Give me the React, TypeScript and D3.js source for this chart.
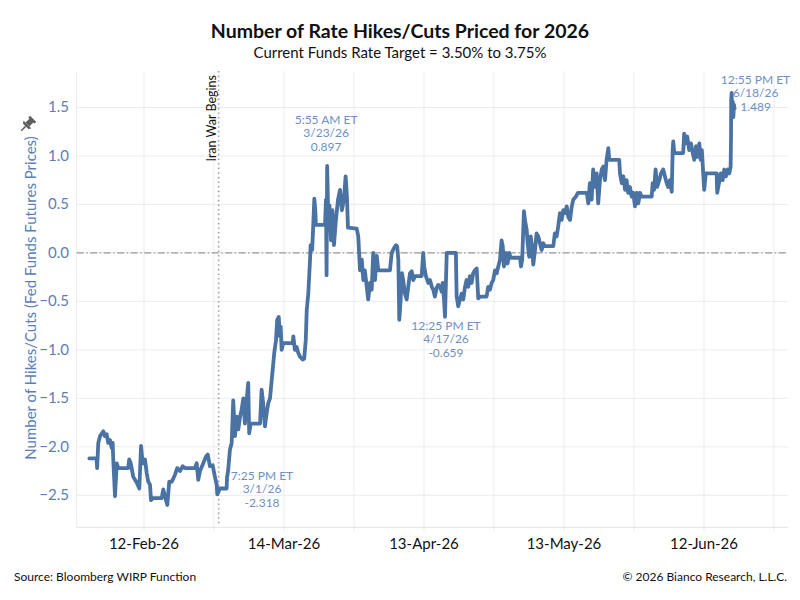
import React from 'react'
import * as d3 from 'd3'

// intraday readings, "M/D H" (2026) and number of hikes/cuts priced
const dates: string[] = [
  '1/31 7', '2/1 12', '2/1 20', '2/1 23', '2/2 5', '2/2 14', '2/3 7', '2/3 15', '2/4 0', '2/4 8',
  '2/4 17', '2/5 2', '2/5 7', '2/5 10', '2/5 19', '2/6 4', '2/6 12', '2/8 15', '2/8 20', '2/9 4',
  '2/9 17', '2/10 11', '2/11 0', '2/11 9', '2/11 17', '2/12 5', '2/12 14', '2/12 22', '2/13 7', '2/13 12',
  '2/13 21', '2/15 19', '2/16 3', '2/16 12', '2/17 0', '2/17 10', '2/17 23', '2/18 15', '2/19 3', '2/19 17',
  '2/20 7', '2/20 19', '2/22 22', '2/23 7', '2/23 15', '2/24 0', '2/24 17', '2/25 7', '2/25 16', '2/26 3',
  '2/26 17', '2/27 5', '2/27 14', '2/27 17', '2/28 7', '3/1 17', '3/1 19', '3/2 1', '3/2 10', '3/2 19',
  '3/3 3', '3/3 12', '3/3 21', '3/4 5', '3/4 14', '3/4 22', '3/5 7', '3/5 15', '3/6 0', '3/6 8',
  '3/6 13', '3/6 21', '3/8 21', '3/9 5', '3/9 13', '3/9 22', '3/10 7', '3/10 15', '3/11 0', '3/11 9',
  '3/11 17', '3/11 22', '3/12 7', '3/12 13', '3/12 21', '3/13 3', '3/13 7', '3/13 12', '3/13 20', '3/15 21',
  '3/16 0', '3/16 8', '3/16 17', '3/17 1', '3/17 10', '3/18 0', '3/18 8', '3/18 16', '3/18 21', '3/19 5',
  '3/19 14', '3/19 17', '3/20 1', '3/20 7', '3/20 12', '3/20 17', '3/20 20', '3/22 19', '3/23 0', '3/23 3',
  '3/23 6', '3/23 13', '3/23 18', '3/24 2', '3/24 9', '3/24 17', '3/25 3', '3/25 14', '3/26 0', '3/26 10',
  '3/26 20', '3/27 5', '3/27 12', '3/27 17', '3/29 14', '3/29 22', '3/30 7', '3/30 16', '3/31 0', '3/31 8',
  '4/1 1', '4/1 10', '4/1 19', '4/2 3', '4/2 12', '4/2 21', '4/3 5', '4/5 17', '4/6 2', '4/6 14',
  '4/7 0', '4/7 6', '4/7 12', '4/7 17', '4/8 0', '4/8 7', '4/8 13', '4/8 22', '4/9 7', '4/9 15',
  '4/10 0', '4/10 9', '4/10 17', '4/11 2', '4/12 12', '4/12 20', '4/13 1', '4/13 10', '4/13 22', '4/14 7',
  '4/14 16', '4/15 0', '4/15 8', '4/15 17', '4/16 1', '4/16 10', '4/16 19', '4/17 0', '4/17 7', '4/17 12',
  '4/17 21', '4/19 20', '4/20 0', '4/20 8', '4/20 17', '4/21 2', '4/21 10', '4/21 19', '4/22 3', '4/22 12',
  '4/22 20', '4/23 5', '4/23 13', '4/23 22', '4/24 7', '4/24 15', '4/25 0', '4/26 10', '4/26 18', '4/27 3',
  '4/27 12', '4/27 20', '4/28 5', '4/28 14', '4/28 22', '4/29 7', '4/29 15', '4/29 21', '4/30 3', '4/30 14',
  '4/30 22', '5/1 6', '5/1 14', '5/3 14', '5/3 19', '5/4 1', '5/4 10', '5/4 15', '5/5 0', '5/5 5',
  '5/5 13', '5/5 21', '5/6 3', '5/6 10', '5/6 19', '5/7 3', '5/7 12', '5/7 20', '5/8 5', '5/8 13',
  '5/8 22', '5/10 17', '5/11 1', '5/11 10', '5/11 18', '5/12 3', '5/12 12', '5/12 20', '5/13 5', '5/13 14',
  '5/13 22', '5/14 7', '5/14 16', '5/15 0', '5/15 13', '5/16 0', '5/17 21', '5/18 5', '5/18 13', '5/18 22',
  '5/19 6', '5/19 15', '5/20 0', '5/20 8', '5/20 17', '5/21 2', '5/21 10', '5/21 19', '5/22 3', '5/22 12',
  '5/22 17', '5/24 20', '5/25 0', '5/25 9', '5/25 17', '5/26 2', '5/26 10', '5/26 18', '5/27 3', '5/27 12',
  '5/27 20', '5/28 5', '5/28 14', '5/28 22', '5/29 7', '5/29 15', '5/31 19', '6/1 0', '6/1 7', '6/1 15',
  '6/1 23', '6/2 10', '6/2 19', '6/3 6', '6/3 15', '6/4 0', '6/4 8', '6/4 17', '6/5 2', '6/5 7',
  '6/5 10', '6/5 15', '6/7 13', '6/7 18', '6/8 3', '6/8 10', '6/8 20', '6/9 5', '6/9 14', '6/9 22',
  '6/10 7', '6/10 15', '6/11 0', '6/11 7', '6/11 13', '6/11 20', '6/12 1', '6/12 9', '6/14 17', '6/14 20',
  '6/15 5', '6/15 14', '6/16 0', '6/16 8', '6/16 17', '6/17 2', '6/17 10', '6/17 17', '6/17 19', '6/17 20',
  '6/17 22', '6/18 1', '6/18 4', '6/18 7', '6/18 10', '6/18 13',
]

const values: number[] = [
  -2.12, -2.12, -2.12, -2.22, -1.96, -1.89, -1.84, -1.89, -1.87, -1.96,
  -1.93, -2.01, -1.96, -2.13, -2.51, -2.17, -2.22, -2.22, -2.13, -2.17,
  -2.31, -2.37, -2.43, -1.99, -2.17, -2.13, -2.27, -2.36, -2.39, -2.55,
  -2.53, -2.53, -2.44, -2.51, -2.6, -2.36, -2.36, -2.29, -2.22, -2.25,
  -2.2, -2.22, -2.22, -2.17, -2.34, -2.25, -2.17, -2.1, -2.08, -2.2,
  -2.19, -2.31, -2.39, -2.49, -2.43, -2.43, -2.32, -2.24, -2.03, -1.96,
  -1.52, -1.89, -1.69, -1.82, -1.69, -1.62, -1.5, -1.76, -1.52, -1.34,
  -1.86, -1.76, -1.76, -1.41, -1.55, -1.79, -1.65, -1.55, -1.5, -1.31,
  -1.14, -1.03, -0.9, -0.69, -0.66, -0.86, -0.76, -1.0, -0.93, -0.93,
  -0.86, -1.0, -0.97, -1.03, -1.07, -1.1, -1.09, -0.9, -0.59, -0.42,
  -0.07, 0.08, 0.03, 0.31, 0.56, 0.44, 0.29, 0.29, 0.55, -0.23,
  0.897, 0.24, 0.49, 0.13, 0.44, 0.08, 0.34, 0.55, 0.65, 0.44,
  0.55, 0.79, 0.57, 0.26, 0.25, 0.17, -0.18, -0.07, -0.28, -0.18,
  -0.48, -0.31, -0.38, 0.0, -0.28, -0.03, -0.18, -0.18, 0.0, 0.05,
  0.08, 0.07, -0.07, -0.69, -0.48, -0.21, -0.28, -0.42, -0.48, -0.35,
  -0.21, -0.19, -0.28, -0.24, -0.24, 0.0, -0.14, -0.24, -0.31, -0.28,
  -0.35, -0.38, -0.45, -0.36, -0.33, -0.35, -0.4, -0.31, -0.48, -0.659,
  0.0, 0.0, -0.45, -0.55, -0.48, -0.42, -0.48, -0.35, -0.28, -0.35,
  -0.24, -0.31, -0.21, -0.18, -0.16, -0.47, -0.45, -0.45, -0.35, -0.38,
  -0.31, -0.28, -0.18, -0.21, -0.14, -0.07, 0.13, 0.07, -0.14, 0.0,
  -0.11, 0.0, -0.05, -0.05, -0.14, -0.07, 0.43, 0.34, 0.24, 0.1,
  -0.04, 0.17, 0.07, -0.12, 0.03, 0.2, 0.17, 0.1, 0.03, 0.1,
  0.07, 0.07, 0.2, 0.17, 0.27, 0.41, 0.34, 0.44, 0.41, 0.48,
  0.37, 0.34, 0.48, 0.55, 0.58, 0.62, 0.62, 0.51, 0.72, 0.55,
  0.86, 0.68, 0.82, 0.51, 0.75, 0.86, 0.89, 0.75, 0.96, 1.08,
  0.96, 0.96, 0.82, 0.72, 0.79, 0.65, 0.75, 0.62, 0.68, 0.58,
  0.62, 0.48, 0.62, 0.51, 0.62, 0.58, 0.58, 0.72, 0.65, 0.86,
  0.68, 0.75, 0.82, 0.86, 0.79, 0.72, 0.68, 0.75, 0.63, 1.06,
  1.15, 1.03, 1.03, 1.23, 1.13, 1.2, 1.06, 1.13, 1.03, 0.96,
  1.1, 0.99, 1.13, 0.96, 1.06, 0.82, 0.65, 0.82, 0.82, 0.62,
  0.72, 0.82, 0.75, 0.86, 0.79, 0.86, 0.82, 0.89, 1.2, 1.58,
  1.65, 1.42, 1.56, 1.4, 1.53, 1.489,
]

const xDomain = ['1/28 14', '6/30 0']
const yDomain = [-2.83, 1.876]
const yTicks = [-2.5, -2.0, -1.5, -1.0, -0.5, 0.0, 0.5, 1.0, 1.5]
const gridDates = ['2/12 0', '2/27 0', '3/14 0', '3/29 0', '4/13 0', '4/28 0', '5/13 0', '5/28 0', '6/12 0', '6/27 0']
const labelDates = ['2/12 0', '3/14 0', '4/13 0', '5/13 0', '6/12 0']
const eventDate = '2/28 0'
const eventLabel = 'Iran War Begins'

const annDates = ['3/1 19', '3/23 6', '4/17 12', '6/18 13']
const annValues = [-2.318, 0.897, -0.659, 1.489]
const annTimes = ['7:25 PM ET', '5:55 AM ET', '12:25 PM ET', '12:55 PM ET']
const annDays = ['3/1/26', '3/23/26', '4/17/26', '6/18/26']
// label offsets from the marked point (layout only)
const annOffsets = [
  { dx: 35, dy: 2 },
  { dx: -1, dy: -42 },
  { dx: 1, dy: 13 },
  { dx: 21, dy: -25 },
]

function parseDate(s: string): Date {
  const [md, h] = s.split(' ')
  const [m, d] = md.split('/').map(Number)
  return new Date(2026, m - 1, d, Number(h))
}

const LINE = '#4a73a4'
const AXIS_TEXT = '#5a80b6'
const ANN_TEXT = '#6d90c2'
const GRID = '#ececec'
const FONT = 'Lato, "Open Sans", sans-serif'

export default function App() {
  const width = 800
  const height = 600
  const plot = { left: 76.7, right: 788, top: 71, bottom: 527.3 }

  const x = d3.scaleTime()
    .domain(xDomain.map(parseDate))
    .range([plot.left, plot.right])
  const y = d3.scaleLinear()
    .domain(yDomain)
    .range([plot.bottom, plot.top])

  const points = dates.map((d, i) => ({ t: parseDate(d), v: values[i] }))
  const line = d3.line<{ t: Date; v: number }>()
    .x(d => x(d.t))
    .y(d => y(d.v))

  const fmtTick = d3.timeFormat('%d-%b-%y')
  const fmtY = d3.format('.1f')
  const ex = x(parseDate(eventDate))

  return (
    <svg width={width} height={height} style={{ position: 'absolute', left: 0, top: 0, background: '#fff' }}
      fontFamily={FONT}>
      <rect x={0} y={0} width={width} height={height} fill="#fff" />

      <text x={400} y={38} textAnchor="middle" fontSize={19.5} fontWeight="bold" fill="#111">
        Number of Rate Hikes/Cuts Priced for 2026
      </text>
      <text x={400} y={58} textAnchor="middle" fontSize={15} fill="#111">
        Current Funds Rate Target = 3.50% to 3.75%
      </text>

      {/* grid */}
      {yTicks.map(t => (
        <line key={'gy' + t} x1={plot.left} x2={plot.right} y1={y(t)} y2={y(t)} stroke={GRID} strokeWidth={1} />
      ))}
      {gridDates.map(d => (
        <line key={'gx' + d} x1={x(parseDate(d))} x2={x(parseDate(d))} y1={plot.top} y2={plot.bottom + 4}
          stroke={GRID} strokeWidth={1} />
      ))}
      <line x1={plot.left} x2={plot.left} y1={plot.top} y2={plot.bottom} stroke={GRID} strokeWidth={1} />
      <line x1={plot.left} x2={plot.right} y1={plot.bottom} y2={plot.bottom} stroke="#e4e4e4" strokeWidth={1} />

      {/* zero line */}
      <line x1={plot.left} x2={plot.right} y1={y(0)} y2={y(0)} stroke="#9a9a9a" strokeWidth={1.3}
        strokeDasharray="7,2.5,1.5,2.5" />

      {/* event marker */}
      <line x1={ex} x2={ex} y1={plot.top} y2={plot.bottom - 4} stroke="#a0a0a0" strokeWidth={1.6}
        strokeDasharray="1.6,3" />
      <text transform={`translate(${ex - 3},${plot.top + 4}) rotate(-90)`} textAnchor="end" fontSize={12.5} fill="#111">
        {eventLabel}
      </text>

      {/* y axis */}
      {yTicks.map(t => (
        <text key={'ty' + t} x={69} y={y(t) + 5} textAnchor="end" fontSize={15} fill={AXIS_TEXT}>
          {fmtY(t)}
        </text>
      ))}
      <text transform="translate(36,298) rotate(-90)" textAnchor="middle" fontSize={15} fill={AXIS_TEXT}>
        Number of Hikes/Cuts (Fed Funds Futures Prices)
      </text>
      <g transform="translate(27,125) rotate(45) scale(1.25)" fill="#5f5f5f">
        <rect x={-3.5} y={-7} width={7} height={2} rx={0.5} />
        <rect x={-2.2} y={-5.5} width={4.4} height={5} />
        <path d="M -4.5 -0.5 L 4.5 -0.5 L 3 1.5 L -3 1.5 Z" />
        <rect x={-0.6} y={1.5} width={1.2} height={5} />
      </g>

      {/* x axis labels */}
      {labelDates.map(d => (
        <text key={'tx' + d} x={x(parseDate(d))} y={549} textAnchor="middle" fontSize={15} fill="#111">
          {fmtTick(parseDate(d))}
        </text>
      ))}

      {/* series */}
      <path d={line(points) ?? ''} fill="none" stroke={LINE} strokeWidth={3.8} strokeLinejoin="round"
        strokeLinecap="round" />

      {/* annotations */}
      {annDates.map((d, i) => {
        const px = x(parseDate(d)) + annOffsets[i].dx
        const py = y(annValues[i]) + annOffsets[i].dy
        return (
          <text key={'a' + d} x={px} y={py} textAnchor="middle" fontSize={12} fill={ANN_TEXT}>
            <tspan x={px} dy={0}>{annTimes[i]}</tspan>
            <tspan x={px} dy={13.5}>{annDays[i]}</tspan>
            <tspan x={px} dy={13.5}>{annValues[i].toFixed(3)}</tspan>
          </text>
        )
      })}

      <text x={14} y={581} fontSize={12} fill="#111">Source: Bloomberg WIRP Function</text>
      <text x={787} y={581} textAnchor="end" fontSize={12} fill="#111">© 2026 Bianco Research, L.L.C.</text>
    </svg>
  )
}
